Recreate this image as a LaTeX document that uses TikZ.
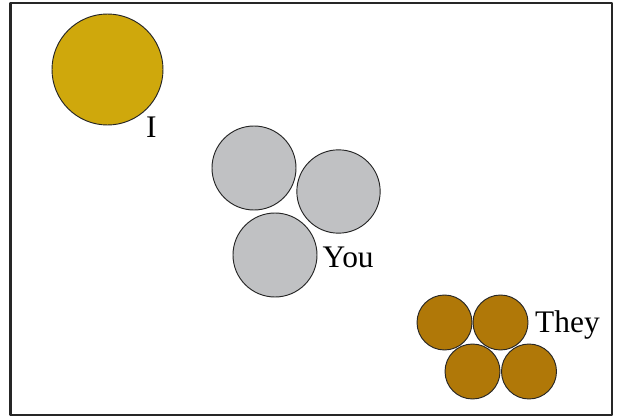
\documentclass[tikz,border=0pt]{standalone}
\usepackage{fontspec}
\setmainfont{Liberation Serif}
\definecolor{goldI}{RGB}{207,168,12}
\definecolor{greyYou}{RGB}{192,193,195}
\definecolor{brownThey}{RGB}{176,120,8}
\tikzset{
  ball/.style={circle, draw=black!85, line width=0.8pt, inner sep=0pt},
  word/.style={anchor=base west, inner sep=0pt, font=\fontsize{26.8}{31}\selectfont}
}
\begin{document}
\begin{tikzpicture}[x=0.3mm, y=-0.3mm, line join=round]
	\useasboundingbox (0,0) rectangle (618,418);
	% --- Khung ---
	\draw[line width=1.9pt, black!85] (10.5,2.7) rectangle (612,415);
	% --- I ---
	\node[ball, fill=goldI, minimum size=33.3mm] (i) at (107.5,69.5) {};
	\node[word] (lblI) at (146,138) {I};
	% --- You ---
	\node[ball, fill=greyYou, minimum size=25.2mm] (you1) at (254,168) {};
	\node[ball, fill=greyYou, minimum size=25mm] (you2) at (338.5,191.5) {};
	\node[ball, fill=greyYou, minimum size=25.2mm] (you3) at (275,255) {};
	\node[word] (lblYou) at (322.5,267) {You};
	% --- They ---
	\foreach \n/\px/\py in {1/444.5/322.5, 2/500.5/322.5, 3/472.5/371.5, 4/529/371.5}
		\node[ball, fill=brownThey, minimum size=16.5mm] (they\n) at (\px,\py) {};
	\node[word] (lblThey) at (535,332) {They};
\end{tikzpicture}
\end{document}
